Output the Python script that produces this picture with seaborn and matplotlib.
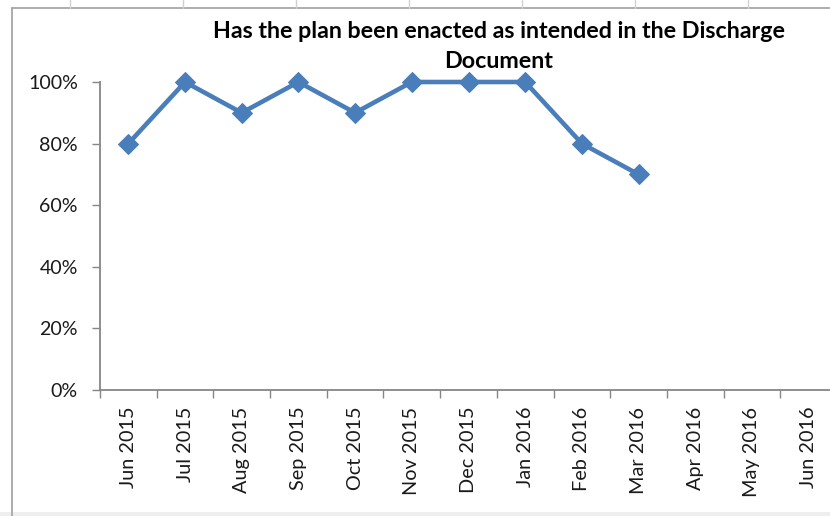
import matplotlib
matplotlib.use("Agg")
import matplotlib.pyplot as plt
import matplotlib.ticker as mticker
from matplotlib.lines import Line2D
from matplotlib.patches import Rectangle
import seaborn as sns
import numpy as np
import pandas as pd

months = ["Jun 2015", "Jul 2015", "Aug 2015", "Sep 2015", "Oct 2015", "Nov 2015",
          "Dec 2015", "Jan 2016", "Feb 2016", "Mar 2016", "Apr 2016", "May 2016", "Jun 2016"]
values = [0.80, 1.00, 0.90, 1.00, 0.90, 1.00, 1.00, 1.00, 0.80, 0.70]
title = "Has the plan been enacted as intended in the Discharge\nDocument"

sns.set_theme(style="white")
plt.rcParams['font.family'] = ['Lato', 'Open Sans', 'DejaVu Sans']

W, H = 830, 516
fig = plt.figure(figsize=(W / 100, H / 100), dpi=100)
fig.patch.set_facecolor("white")

left_px, right_px, top_px, bot_px = 100, 837, 82, 390
ax = fig.add_axes([left_px / W, 1 - bot_px / H, (right_px - left_px) / W, (bot_px - top_px) / H])
ax.set_facecolor("none")

df = pd.DataFrame({"x": np.arange(len(values)), "y": values})
sns.lineplot(data=df, x="x", y="y", ax=ax, color="#4A7EBB", linewidth=3.3,
             marker="D", markersize=10, markeredgecolor="#4A7EBB", clip_on=False)

ax.set_xlim(-0.5, len(months) - 0.5)
ax.set_ylim(0, 1)
ax.set_xlabel("")
ax.set_ylabel("")

ax.yaxis.set_major_locator(mticker.MultipleLocator(0.2))
ax.yaxis.set_major_formatter(mticker.PercentFormatter(1.0, decimals=0))
ax.set_xticks(np.arange(len(months) + 1) - 0.5)
ax.set_xticklabels([])
ax.set_xticks(np.arange(len(months)), minor=True)
ax.set_xticklabels(months, minor=True, rotation=90)

axis_col = "#868686"
ax.tick_params(axis="y", which="major", length=5.5, width=1, color=axis_col,
               labelsize=14, labelcolor="#1a1a1a", pad=10.5, left=True)
ax.tick_params(axis="x", which="major", length=6, width=1, color=axis_col, bottom=True)
ax.tick_params(axis="x", which="minor", length=0, labelsize=14, labelcolor="#1a1a1a", pad=12)

for s in ["top", "right"]:
    ax.spines[s].set_visible(False)
for s in ["left", "bottom"]:
    ax.spines[s].set_color(axis_col)
    ax.spines[s].set_linewidth(1.3)

# title, one text per line
lines = title.split("\n")
t1 = fig.text(499 / W, 1 - 32 / H, lines[0], ha="center", va="center", fontsize=16.5,
              fontweight="bold", color="black")
t2 = fig.text(499 / W, 1 - 62 / H, lines[1], ha="center", va="center", fontsize=16.5,
              fontweight="bold", color="black")

# fit font sizes to the measured text lengths of the reference
fig.canvas.draw()
r = fig.canvas.get_renderer()
xl = ax.get_xticklabels(minor=True)[0]
xs = 14 * 82 / xl.get_window_extent(r).height
ylab = [t for t in ax.get_yticklabels() if t.get_text().startswith("100")][0]
ys = 14 * 50 / ylab.get_window_extent(r).width
ts = 16.5 * 572 / t1.get_window_extent(r).width
ax.tick_params(axis="x", which="minor", labelsize=xs)
ax.tick_params(axis="y", which="major", labelsize=ys)
t1.set_fontsize(ts)
t2.set_fontsize(ts)

# chart border, spreadsheet grid lines and bottom band
fig.add_artist(Line2D([12 / W, 12 / W], [0, 1 - 8 / H], transform=fig.transFigure,
                      color="#A0A0A0", linewidth=1.2))
fig.add_artist(Line2D([12 / W, 1], [1 - 8 / H, 1 - 8 / H], transform=fig.transFigure,
                      color="#A0A0A0", linewidth=1.2))
for gx in [70, 183, 296, 409, 522, 635, 748]:
    fig.add_artist(Line2D([gx / W, gx / W], [1 - 8 / H, 1], transform=fig.transFigure,
                          color="#D0D0D0", linewidth=1))
fig.add_artist(Rectangle((0, 0), 1, 4 / H, transform=fig.transFigure,
                         facecolor="#EEEEEE", edgecolor="none"))

fig.savefig("out.png", dpi=100)
